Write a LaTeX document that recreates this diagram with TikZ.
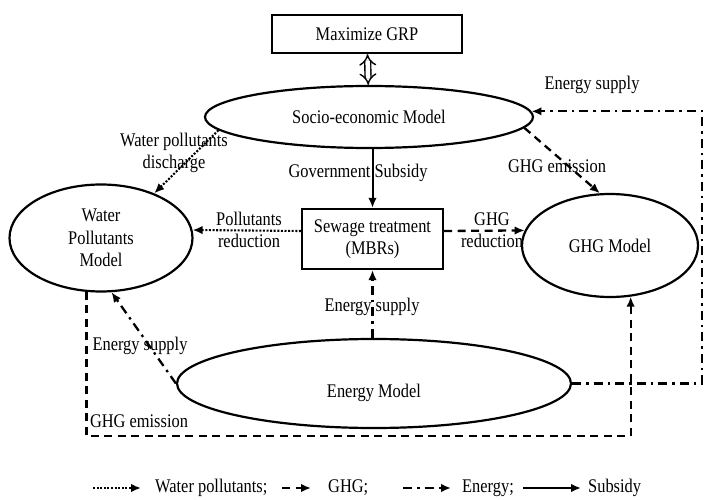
\documentclass[tikz,border=0pt]{standalone}
\usepackage{fontspec}
\setmainfont[FakeStretch=0.85]{Liberation Serif}
\usetikzlibrary{arrows.meta,shapes.geometric,calc}
\begin{document}
\begin{tikzpicture}[x=1pt,y=-1pt,
  every node/.style={font=\fontsize{19.3}{22.5}\selectfont},
  box/.style={draw,line width=2.2pt,rectangle,inner sep=0pt,align=center},
  oval/.style={draw,line width=2.2pt,ellipse,inner sep=0pt,align=center},
  lbl/.style={inner sep=0pt,align=center},
  lbl1/.style={inner sep=0pt,text height=13pt,text depth=4pt},
  tip/.style={-{Latex[length=10pt,width=8.5pt]}},
  wline/.style={line width=2.1pt,dash pattern=on 2pt off 1.6pt,tip},
  gline/.style={line width=2.3pt,dash pattern=on 8pt off 5.5pt,tip},
  eline/.style={line width=2.3pt,dash pattern=on 9pt off 5pt on 2.5pt off 5pt,tip},
  sline/.style={line width=2pt,tip},
]
\useasboundingbox (0,0) rectangle (705,500);

% main nodes
\node[box,minimum width=190pt,minimum height=38pt] (grp) at (367,34) {Maximize GRP};
\node[oval,minimum width=328pt,minimum height=62pt] (socio) at (369,117) {Socio-economic Model};
\node[oval,minimum width=183pt,minimum height=107pt] (water) at (101,238) {Water\\Pollutants\\Model};
\node[box,minimum width=141pt,minimum height=60pt] (sewage) at (372.5,239) {Sewage treatment\\(MBRs)};
\node[oval,minimum width=176pt,minimum height=103pt] (ghg) at (610,245.5) {GHG Model};
\node[oval,minimum width=394pt,minimum height=89pt] (energy) at (374,383.5) {\raisebox{-14pt}[0pt][0pt]{Energy Model}};

% labels
\node[lbl] (lwd) at (174,153) {Water pollutants\\discharge};
\node[lbl1] (lgs) at (358,173) {Government Subsidy};
\node[lbl1] (lge) at (557,168) {GHG emission};
\node[lbl1] (les1) at (592,85) {Energy supply};
\node[lbl] (lpr) at (249,230) {Pollutants\\reduction};
\node[lbl] (lgr) at (492,230) {GHG\\reduction};
\node[lbl1] (les2) at (372,307) {Energy supply};
\node[lbl1] (les3) at (140,346) {Energy supply};
\node[lbl1] (lge2) at (139,423) {GHG emission};

% helper coordinates
\coordinate (gcorner) at ($(ghg.-68)+(0,0)$);
\coordinate (gbottom) at (0,436);
\coordinate (eright) at (702,0);

% connectors
\draw[line width=1.4pt,double distance=4.5pt,{Implies}-{Implies}] (grp) -- (socio);
\draw[wline] (socio.185) -- (water.40);
\draw[sline] (sewage.north |- socio.south) -- (sewage.north);
\draw[gline] (socio.-4) -- (ghg.101);
\draw[wline] ([yshift=8pt]sewage.west) -- (water.5);
\draw[gline] ([yshift=8pt]sewage.east) -- (ghg.170);
\draw[eline] (sewage.south |- energy.north) -- (sewage.south);
\draw[eline] (energy.west) -- (water.-79);
\draw[gline] (water.-105) -- (water.-105 |- gbottom) -- (gcorner |- gbottom) -- (ghg.-68);
\draw[eline] (energy.east) -- (eright |- energy.east) -- (eright |- socio.2) -- (socio.2);

% legend
\coordinate (k1a) at (93,488); \coordinate (k1b) at (141,488);
\coordinate (k2a) at (282,488); \coordinate (k2b) at (311,488);
\coordinate (k3a) at (403,488); \coordinate (k3b) at (451,488);
\coordinate (k4a) at (523,488); \coordinate (k4b) at (581,488);
\draw[wline] (k1a) -- (k1b);
\draw[gline] (k2a) -- (k2b);
\draw[eline] (k3a) -- (k3b);
\draw[sline] (k4a) -- (k4b);
\node[lbl1,anchor=west] (t1) at (155,488) {Water pollutants;};
\node[lbl1,anchor=west] (t2) at (328,488) {GHG;};
\node[lbl1,anchor=west] (t3) at (462,488) {Energy;};
\node[lbl1,anchor=west] (t4) at (588,488) {Subsidy};
\end{tikzpicture}
\end{document}
